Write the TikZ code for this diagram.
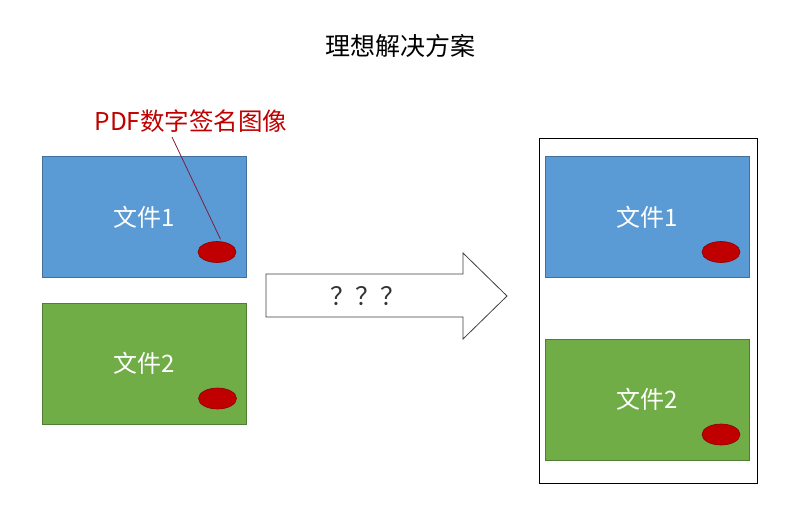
\documentclass[tikz,border=0pt]{standalone}
\usepackage{fontspec}
\usetikzlibrary{shapes.geometric,calc}
\setmainfont{Noto Sans CJK SC}
\definecolor{docblue}{HTML}{5B9BD5}
\definecolor{docblueline}{HTML}{41719C}
\definecolor{docgreen}{HTML}{70AD47}
\definecolor{docgreenline}{HTML}{507E32}
\definecolor{sigred}{HTML}{C00000}
\definecolor{sigline}{HTML}{8C0000}
\definecolor{leadline}{HTML}{7A1E3C}
\begin{document}
\begin{tikzpicture}[x=1pt,y=-1pt,
  docbox/.style={draw, line width=0.8pt, minimum width=204pt, minimum height=121pt, inner sep=0pt, text=white, font=\fontsize{24}{28}\selectfont},
  bluedoc/.style={docbox, fill=docblue, draw=docblueline},
  greendoc/.style={docbox, fill=docgreen, draw=docgreenline},
  sig/.style={ellipse, draw=sigline, fill=sigred, line width=0.6pt, minimum width=38pt, minimum height=21pt, inner sep=0pt},
  frame/.style={draw=black, line width=1pt, fill=white, minimum width=218pt, minimum height=345pt, inner sep=0pt},
  bigarrow/.style={draw=black!75, line width=0.8pt, fill=white}
]
\useasboundingbox[fill=white] (0,0) rectangle (792,520);
% title
\node[font=\fontsize{25}{28}\selectfont] (title) at (400,46) {理想解决方案};
% left documents
\node[bluedoc] (d1) at (144.5,217) {\raisebox{-3pt}{文件1}};
\node[greendoc] (d2) at (144.5,363.5) {\raisebox{-3pt}{文件2}};
\node[sig] (s1) at (217,252) {};
\node[sig] (s2) at (217.5,398.5) {};
% label
\node[text=sigred, font=\fontsize{24.5}{28}\selectfont, anchor=center] (lab) at (191,121) {PDF数字签名图像};
\coordinate (labfoot) at (172,137);
\draw[leadline, line width=0.8pt] (labfoot) -- ($(s1.north)+(3.5,-2)$);
% arrow
\draw[bigarrow] (266,274) -- (463,274) -- (463,253) -- (507,296) -- (463,339) -- (463,317) -- (266,317) -- cycle;
\node[font=\fontsize{25}{28}\selectfont, text=black!80] (q) at (368,296) {？？？};
% right frame
\node[frame] (fr) at (648,311) {};
\node[bluedoc] (r1) at (647.5,217) {\raisebox{-3pt}{文件1}};
\node[greendoc] (r2) at (647.5,399.5) {\raisebox{-3pt}{文件2}};
\node[sig] (rs1) at (721,252) {};
\node[sig] (rs2) at (721,434.5) {};
\end{tikzpicture}
\end{document}
